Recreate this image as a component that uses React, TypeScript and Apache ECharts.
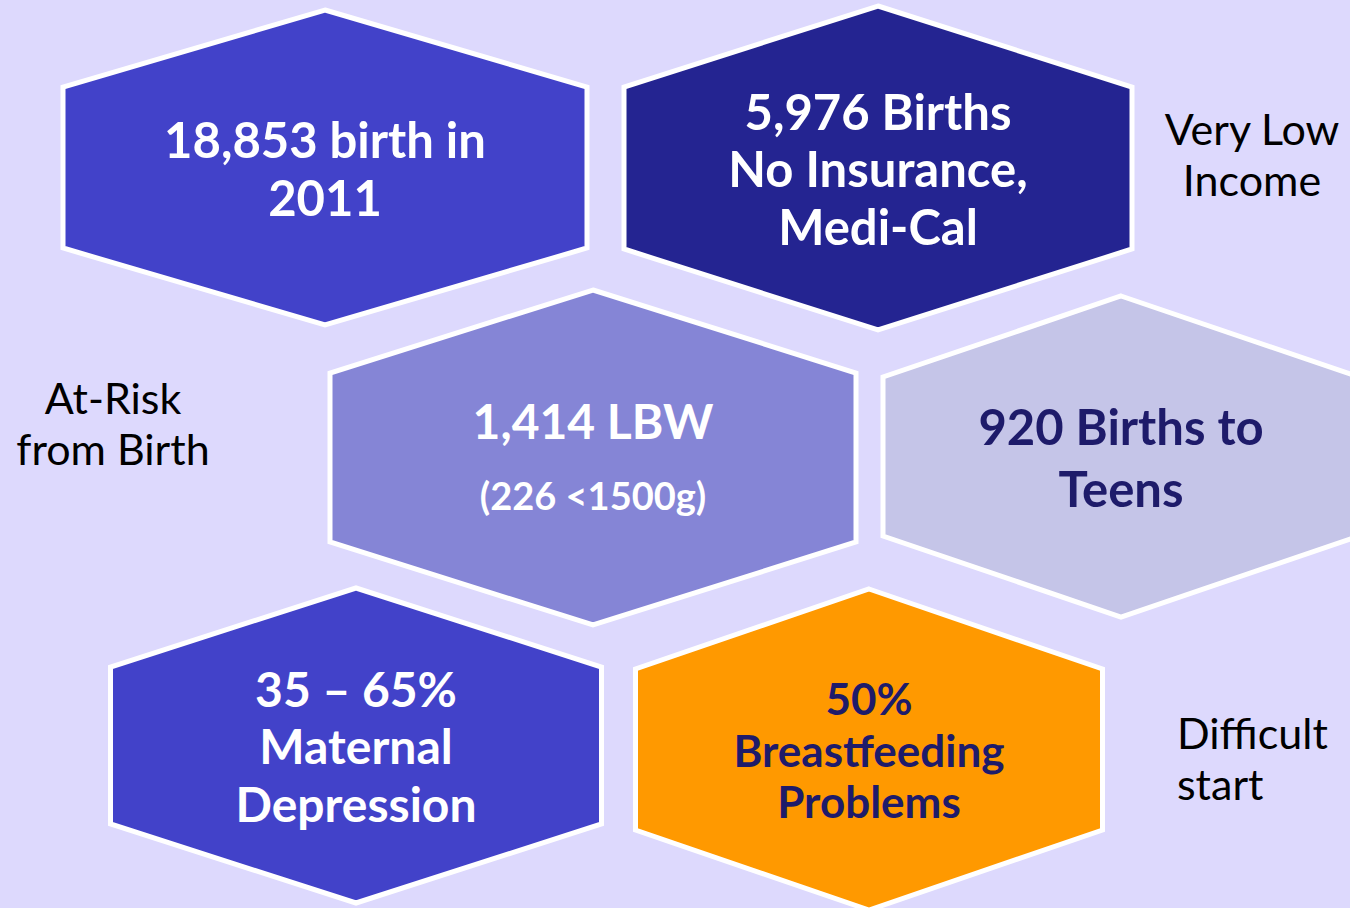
import React, { useEffect, useRef } from "react";
import * as echarts from "echarts";

// ---- content ----
const hexLabels: string[][] = [
  ["18,853 birth in", "2011"],
  ["5,976 Births", "No Insurance,", "Medi-Cal"],
  ["1,414 LBW", "(226 <1500g)"],
  ["920 Births to", "Teens"],
  ["35 – 65%", "Maternal", "Depression"],
  ["50%", "Breastfeeding", "Problems"],
];

const sideLabels: string[] = ["Very Low\nIncome", "At-Risk\nfrom Birth", "Difficult\nstart"];

// ---- layout (page pixels, used as data coordinates on a hidden 1350x908 axis) ----
const hexCenterX = [325, 878, 593, 1121, 356, 869];
const hexCenterY = [167.5, 168, 457.5, 456.5, 745.5, 749.5];
const hexHalfWidth = [262, 254, 263, 238, 245.5, 233.5];
const hexHalfHeight = [157.5, 162, 167.5, 160.5, 157.5, 160.5];
const hexShoulder = [77, 81, 83, 81, 79, 80];

// ---- styles ----
const BG = "#DDD9FD";
const hexFill = ["#4242C9", "#242491", "#8585D6", "#C5C5E8", "#4242C9", "#FF9900"];
const hexTextColor = ["#FFFFFF", "#FFFFFF", "#FFFFFF", "#1E1B6A", "#FFFFFF", "#1E1B6A"];
const hexFontSizes: number[][] = [
  [49, 49],
  [49, 49, 49],
  [48, 38],
  [49, 49],
  [48, 48, 48],
  [44, 44, 44],
];
const hexLineHeights = [58, 57.5, 75, 62, 57.5, 51.5];

export default function App() {
  const ref = useRef<HTMLDivElement>(null);

  useEffect(() => {
    document.body.style.margin = "0";
    document.body.style.background = BG;
    const chart = echarts.init(ref.current!, null, { renderer: "svg" });

    const data = hexCenterX.map((x, i) => [
      x,
      hexCenterY[i],
      hexHalfWidth[i],
      hexHalfHeight[i],
      hexShoulder[i],
      i,
    ]);

    const renderItem = (params: any, api: any) => {
      const cx = api.value(0);
      const cy = api.value(1);
      const hw = api.value(2);
      const hh = api.value(3);
      const sh = api.value(4);
      const idx = api.value(5);
      const pts = [
        [cx, cy - hh],
        [cx + hw, cy - hh + sh],
        [cx + hw, cy + hh - sh],
        [cx, cy + hh],
        [cx - hw, cy + hh - sh],
        [cx - hw, cy - hh + sh],
      ].map((p) => api.coord(p));
      const c = api.coord([cx, cy]);
      const lines = hexLabels[idx];
      const rich: any = {};
      const parts = lines.map((ln, k) => {
        rich["l" + k] = {
          fontSize: hexFontSizes[idx][k],
          fontWeight: "bold",
          fontFamily: "Lato",
          lineHeight: hexLineHeights[idx],
          fill: hexTextColor[idx],
          align: "center",
        };
        return "{l" + k + "|" + ln + "}";
      });
      return {
        type: "group",
        children: [
          {
            type: "polygon",
            shape: { points: pts },
            style: { fill: hexFill[idx], stroke: "#FFFFFF", lineWidth: 5, lineJoin: "miter" },
          },
          {
            type: "text",
            x: c[0],
            y: c[1],
            style: {
              text: parts.join("\n"),
              rich,
              align: "center",
              verticalAlign: "middle",
              fill: hexTextColor[idx],
              fontFamily: "Lato",
              fontWeight: "bold",
            },
          },
        ],
      };
    };

    const sideStyle = {
      fill: "#000000",
      fontFamily: "Lato",
      fontSize: 43,
      lineHeight: 51,
      verticalAlign: "middle",
    };

    chart.setOption({
      animation: false,
      backgroundColor: BG,
      grid: { left: 0, right: 0, top: 0, bottom: 0 },
      xAxis: { type: "value", min: 0, max: 1350, show: false },
      yAxis: { type: "value", min: 0, max: 908, inverse: true, show: false },
      series: [
        {
          type: "custom",
          coordinateSystem: "cartesian2d",
          renderItem,
          data,
          silent: true,
        },
      ],
      graphic: [
        {
          type: "text",
          x: 1252,
          y: 154,
          style: { ...sideStyle, text: sideLabels[0], align: "center" },
        },
        {
          type: "text",
          x: 113,
          y: 423,
          style: { ...sideStyle, text: sideLabels[1], align: "center" },
        },
        {
          type: "text",
          x: 1177,
          y: 758,
          style: { ...sideStyle, text: sideLabels[2], align: "left" },
        },
      ],
    });

    return () => chart.dispose();
  }, []);

  return (
    <div
      ref={ref}
      style={{ position: "absolute", left: 0, top: 0, width: 1350, height: 908 }}
    />
  );
}
